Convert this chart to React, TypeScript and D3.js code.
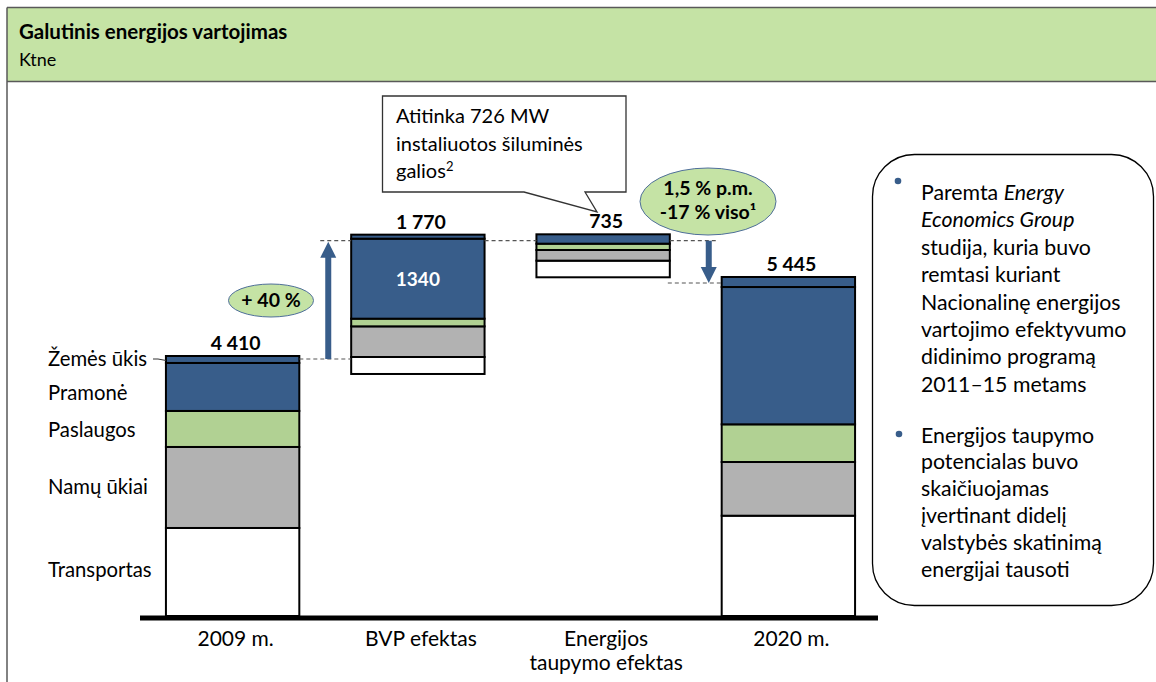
import React from "react";
import * as d3 from "d3";

// ---------- data ----------
const categories = ["2009 m.", "BVP efektas", "Energijos\ntaupymo efektas", "2020 m."];
const sectors = ["Transportas", "Namų ūkiai", "Paslaugos", "Pramonė", "Žemės ūkis"]; // bottom → top
const sectorColors = ["#ffffff", "#b2b2b2", "#b1d193", "#385d8a", "#385d8a"];
// floating base of each bar (ktne, as drawn)
const barBase = [0, 4105, 5745, 0];
// segment values per bar, in sector order (ktne, as drawn)
const seg2009 = [1493, 1374, 611, 814, 118];
const segBVP = [288, 520, 130, 1357, 68];
const segSaving = [282, 181, 107, 159, 0];
const seg2020 = [1701, 911, 639, 2329, 170];
const segments = [seg2009, segBVP, segSaving, seg2020];
const totalLabels = ["4 410", "1 770", "735", "5 445"];
const bvpInnerLabel = "1340";
const growthLabel = "+ 40 %";
const savingLabels = ["1,5 % p.m.", "-17 % viso¹"];
const calloutLines = ["Atitinka 726 MW", "instaliuotos šiluminės", "galios²"];
const title = "Galutinis energijos vartojimas";
const unit = "Ktne";

const FONT = "Lato, 'Open Sans', sans-serif";
const BLUE = "#385d8a";
const LIGHT_GREEN = "#c5e3a5";

export default function App() {
  const W = 1156, H = 682;
  const x = d3.scaleBand<string>().domain(categories).range([140, 881]).paddingInner(0.28).paddingOuter(0.14);
  const y = d3.scaleLinear().domain([0, 4410]).range([616, 356]);
  const bw = x.bandwidth();

  const bars = segments.map((vals, i) => {
    let acc = barBase[i];
    const cat = categories[i];
    const rects = vals.map((v, j) => {
      const y0 = acc, y1 = acc + v;
      acc = y1;
      return { j, y0, y1 };
    }).filter(r => r.y1 > r.y0);
    return { cat, x0: x(cat)!, rects, top: acc, bottom: barBase[i] };
  });

  const b1 = bars[0], b2 = bars[1], b3 = bars[2], b4 = bars[3];
  const upX = (b1.x0 + bw + b2.x0) / 2 + 3;
  const downX = (b3.x0 + bw + b4.x0) / 2 + 13;

  const r1 = b1.rects;
  const labelDy = [5, 7, 8, 13, 0];

  const bullet1 = [
    [{ t: "Paremta ", i: false }, { t: "Energy", i: true }],
    [{ t: "Economics Group", i: true }],
    [{ t: "studija, kuria buvo", i: false }],
    [{ t: "remtasi kuriant", i: false }],
    [{ t: "Nacionalinę energijos", i: false }],
    [{ t: "vartojimo efektyvumo", i: false }],
    [{ t: "didinimo programą", i: false }],
    [{ t: "2011–15 metams", i: false }],
  ];
  const bullet2 = [
    "Energijos taupymo",
    "potencialas buvo",
    "skaičiuojamas",
    "įvertinant didelį",
    "valstybės skatinimą",
    "energijai tausoti",
  ];

  const arrowPath = (cx: number, yTail: number, yTip: number) => {
    const dir = yTip < yTail ? -1 : 1;
    const headLen = 16, sw = 3, hw = 8;
    const yHead = yTip - dir * headLen;
    return `M${cx - sw},${yTail} L${cx - sw},${yHead} L${cx - hw},${yHead} L${cx},${yTip} L${cx + hw},${yHead} L${cx + sw},${yHead} L${cx + sw},${yTail} Z`;
  };

  return (
    <>
      <style>{"html,body{margin:0;padding:0;overflow:hidden}"}</style>
      <svg width={W} height={H} style={{ position: "absolute", left: 0, top: 0, display: "block" }} fontFamily={FONT}>
        <rect x={0} y={0} width={W} height={H} fill="#fff" />
        {/* header */}
        <rect x={7} y={7.5} width={W} height={74} fill={LIGHT_GREEN} />
        <g stroke="#595959" strokeWidth={1.5}>
          <line x1={7} y1={7.5} x2={W} y2={7.5} />
          <line x1={7} y1={81.5} x2={W} y2={81.5} />
          <line x1={7} y1={7.5} x2={7} y2={H} />
        </g>
        <text x={19} y={39} fontSize={20.5} fontWeight="bold" fill="#000">{title}</text>
        <text x={19} y={66} fontSize={18} fill="#000">{unit}</text>

        {/* bars */}
        {bars.map((b, i) => (
          <g key={b.cat}>
            {b.rects.map(r => (
              <rect key={r.j} x={b.x0} y={y(r.y1)} width={bw} height={y(r.y0) - y(r.y1)}
                fill={sectorColors[r.j]} stroke="#000" strokeWidth={2} />
            ))}
            <text x={b.x0 + bw / 2 + 3} y={y(b.top) - 6} textAnchor="middle" fontSize={19.5} fontWeight="bold">{totalLabels[i]}</text>
          </g>
        ))}
        {/* baseline */}
        <line x1={140} x2={878} y1={y(0) + 2} y2={y(0) + 2} stroke="#000" strokeWidth={5} />

        {/* inner label in BVP bar */}
        {(() => {
          const r = b2.rects.find(r => r.j === 3)!;
          return <text x={b2.x0 + bw / 2} y={(y(r.y0) + y(r.y1)) / 2 + 7} textAnchor="middle" fontSize={19} fontWeight="bold" fill="#fff">{bvpInnerLabel}</text>;
        })()}

        {/* category labels */}
        {categories.map(c => {
          const lines = c.split("\n");
          return (
            <text key={c} x={x(c)! + bw / 2 + 3} y={646} textAnchor="middle" fontSize={21}>
              {lines.map((l, k) => <tspan key={k} x={x(c)! + bw / 2 + 3} dy={k === 0 ? 0 : 24}>{l}</tspan>)}
            </text>
          );
        })}

        {/* sector labels */}
        {r1.map(r => {
          const isTop = r.j === 4;
          const cy = (y(r.y0) + y(r.y1)) / 2;
          return (
            <g key={r.j}>
              <text x={48} y={isTop ? 366 : cy + labelDy[r.j]} fontSize={20.3}>{sectors[r.j]}</text>
              {isTop && <path d={`M153,359 L158,359 L166,${cy + 1}`} fill="none" stroke="#333" strokeWidth={1} />}
            </g>
          );
        })}

        {/* dashed connectors */}
        <g stroke="#555" strokeWidth={1.2} strokeDasharray="4,3">
          <line x1={b1.x0 + bw} x2={b2.x0} y1={y(b1.top) + 3} y2={y(b1.top) + 3} />
          <line x1={upX - 8} x2={b2.x0} y1={y(b2.top) + 6} y2={y(b2.top) + 6} />
          <line x1={b2.x0 + bw} x2={b3.x0} y1={y(b2.top) + 6} y2={y(b2.top) + 6} />
          <line x1={b3.x0 + bw} x2={downX + 7} y1={y(b2.top) + 6} y2={y(b2.top) + 6} />
          <line x1={b3.x0 + bw - 2} x2={b4.x0} y1={y(b4.top) + 6} y2={y(b4.top) + 6} />
        </g>

        {/* arrows */}
        <path d={arrowPath(upX, y(b1.top) + 3, y(b2.top) + 7)} fill={BLUE} />
        <path d={arrowPath(downX, y(b2.top) + 6, y(b4.top) + 6)} fill={BLUE} />

        {/* growth ellipse */}
        <ellipse cx={271} cy={300.5} rx={42.5} ry={16.5} fill={LIGHT_GREEN} stroke="#4f6f9a" strokeWidth={1} />
        <text x={271} y={307} textAnchor="middle" fontSize={19.5} fontWeight="bold">{growthLabel}</text>

        {/* saving ellipse */}
        <ellipse cx={708} cy={201.5} rx={68} ry={33.5} fill={LIGHT_GREEN} stroke="#4f6f9a" strokeWidth={1} />
        {savingLabels.map((s, k) => (
          <text key={k} x={708} y={195 + k * 23.5} textAnchor="middle" fontSize={19.5} fontWeight="bold">{s}</text>
        ))}

        {/* callout */}
        <path d="M382.5,96 H626 V192 H585 L597,212 L524,192 H382.5 Z" fill="#fff" stroke="#333" strokeWidth={1.3} />
        {calloutLines.map((l, k) => (
          <text key={k} x={396} y={123 + k * 27.5} fontSize={20}>
            {l === "galios²" ? <>galios<tspan dy={-7} fontSize={13}>2</tspan></> : l}
          </text>
        ))}

        {/* right box */}
        <rect x={872.5} y={154.5} width={281} height={451} rx={42} ry={42} fill="#fff" stroke="#000" strokeWidth={1.3} />
        <circle cx={898} cy={181} r={3.3} fill={BLUE} />
        {bullet1.map((parts, k) => (
          <text key={k} x={921} y={200 + k * 27.4} fontSize={21.3}>
            {parts.map((p, m) => <tspan key={m} fontStyle={p.i ? "italic" : "normal"}>{p.t}</tspan>)}
          </text>
        ))}
        <circle cx={899} cy={434} r={3.3} fill={BLUE} />
        {bullet2.map((l, k) => (
          <text key={k} x={921} y={442.5 + k * 26.8} fontSize={21.3}>{l}</text>
        ))}
      </svg>
    </>
  );
}
